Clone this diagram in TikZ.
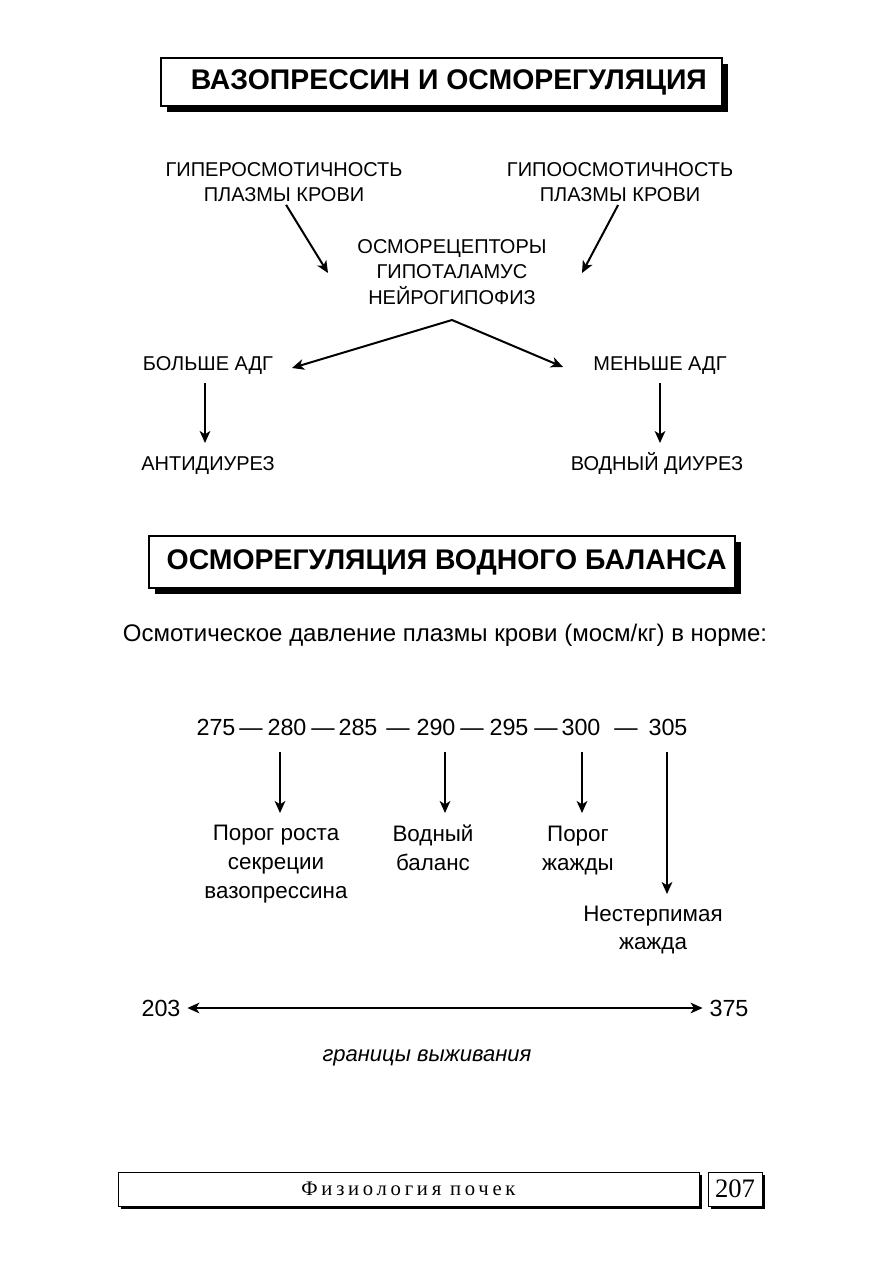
\documentclass[tikz,border=0pt]{standalone}
\usepackage{fontspec}
\setmainfont{Liberation Sans}
\newfontfamily\footfont[LetterSpace=18]{Liberation Serif}
\newfontfamily\pagefont{Liberation Serif}
\usetikzlibrary{arrows.meta,shadows}

\tikzset{
  caps/.style={font=\fontsize{15}{18.75}\selectfont, align=center, inner sep=0pt, anchor=base},
  txt/.style={font=\fontsize{16.8}{21.4}\selectfont, align=center, inner sep=0pt, anchor=base},
  num/.style={font=\fontsize{17.5}{20}\selectfont, inner sep=0pt, anchor=base},
  headbox/.style={draw, thick, fill=white, font=\bfseries\fontsize{21.3}{24}\selectfont,
    drop shadow={shadow xshift=4.5pt, shadow yshift=-4.5pt, opacity=1, fill=black}},
  footbox/.style={draw, fill=white, minimum height=25.5pt,
    drop shadow={shadow xshift=2.5pt, shadow yshift=-2.5pt, opacity=1, fill=black}},
  tip/.tip={Stealth[length=9pt,width=8pt,inset=2.5pt]},
  arr/.style={-tip, line width=1.5pt},
}

\begin{document}
\begin{tikzpicture}[x=0.75pt, y=-0.75pt]
  \useasboundingbox (0,0) rectangle (893,1263);

  %% Part 1: vasopressin
  \node[headbox, minimum width=420.75pt, minimum height=36pt] (title1) at (441.5,82) {\hspace*{11pt}ВАЗОПРЕССИН И ОСМОРЕГУЛЯЦИЯ};

  \node[caps] (hyper) at (284,201) {ГИПЕРОСМОТИЧНОСТЬ\\ПЛАЗМЫ КРОВИ};
  \node[caps] (hypo) at (620,201) {ГИПООСМОТИЧНОСТЬ\\ПЛАЗМЫ КРОВИ};
  \node[caps, font=\fontsize{15}{19}\selectfont] (osmo) at (452,304) {ОСМОРЕЦЕПТОРЫ\\ГИПОТАЛАМУС\\НЕЙРОГИПОФИЗ};
  \coordinate (hyperend) at (328,273);
  \coordinate (hypoend) at (582,273);
  \coordinate (peak) at (452,320);

  \node[caps] (more) at (208,370) {БОЛЬШЕ АДГ};
  \node[caps] (less) at (660,370) {МЕНЬШЕ АДГ};
  \node[caps] (anti) at (208,470) {АНТИДИУРЕЗ};
  \node[caps] (water) at (657,470) {ВОДНЫЙ ДИУРЕЗ};
  \coordinate (moreend) at (292,368);
  \coordinate (lessend) at (563,367);
  \coordinate (moredown) at (205,383);
  \coordinate (lessdown) at (660,383);

  \draw[arr, shorten <=3pt] (hyper.south) -- (hyperend);
  \draw[arr, shorten <=3pt] (hypo.south) -- (hypoend);
  \draw[arr] (peak) -- (moreend);
  \draw[arr] (peak) -- (lessend);
  \draw[arr] (moredown) -- (moredown |- 0,443);
  \draw[arr] (lessdown) -- (lessdown |- 0,443);

  %% Part 2: water balance
  \node[headbox, minimum width=439.5pt, minimum height=39pt] (title2) at (442,562) {\hspace*{7pt}ОСМОРЕГУЛЯЦИЯ ВОДНОГО БАЛАНСА};

  \node[txt, font=\fontsize{18}{21}\selectfont] (norm) at (445,641) {Осмотическое давление плазмы крови (мосм/кг) в норме:};

  % scale of values
  \node[num] (n275) at (216,735) {275};
  \node[num] (d1) at (251,735) {—};
  \node[num] (n280) at (287,735) {280};
  \node[num] (d2) at (323,735) {—};
  \node[num] (n285) at (358,735) {285};
  \node[num] (d3) at (398,735) {—};
  \node[num] (n290) at (436,735) {290};
  \node[num] (d4) at (472,735) {—};
  \node[num] (n295) at (509,735) {295};
  \node[num] (d5) at (546,735) {—};
  \node[num] (n300) at (581,735) {300};
  \node[num] (d6) at (626,735) {—};
  \node[num] (n305) at (668,735) {305};

  \node[txt] (thresh) at (276,898) {Порог роста\\секреции\\вазопрессина};
  \node[txt] (balance) at (433,870) {Водный\\баланс};
  \node[txt] (thirst) at (578,870) {Порог\\жажды};
  \node[txt, font=\fontsize{16.8}{21}\selectfont] (agony) at (653,949) {Нестерпимая\\жажда};

  \coordinate (a280) at (280,752);
  \coordinate (a290) at (445,752);
  \coordinate (a300) at (582,752);
  \coordinate (a305) at (667,752);
  \draw[arr] (a280) -- (a280 |- 0,813);
  \draw[arr] (a290) -- (a290 |- 0,813);
  \draw[arr] (a300) -- (a300 |- 0,813);
  \draw[arr] (a305) -- (a305 |- 0,894);

  % survival limits
  \node[num] (n203) at (161,1016) {203};
  \node[num] (n375) at (729,1016) {375};
  \draw[tip-tip, line width=1.2pt, shorten <=5pt, shorten >=5pt]
    (n203.east |- 0,1008) -- (n375.west |- 0,1008);
  \node[txt, font=\itshape\fontsize{16.5}{18}\selectfont] (limits) at (427,1061) {границы выживания};

  %% Footer
  \node[footbox, minimum width=435.75pt, font=\footfont\fontsize{15.5}{16}\selectfont] (chapter) at (408.5,1189) {Физиология почек};
  \node[footbox, minimum width=40.5pt, font=\pagefont\fontsize{20}{20}\selectfont] (page) at (735,1189) {207};

\end{tikzpicture}
\end{document}
